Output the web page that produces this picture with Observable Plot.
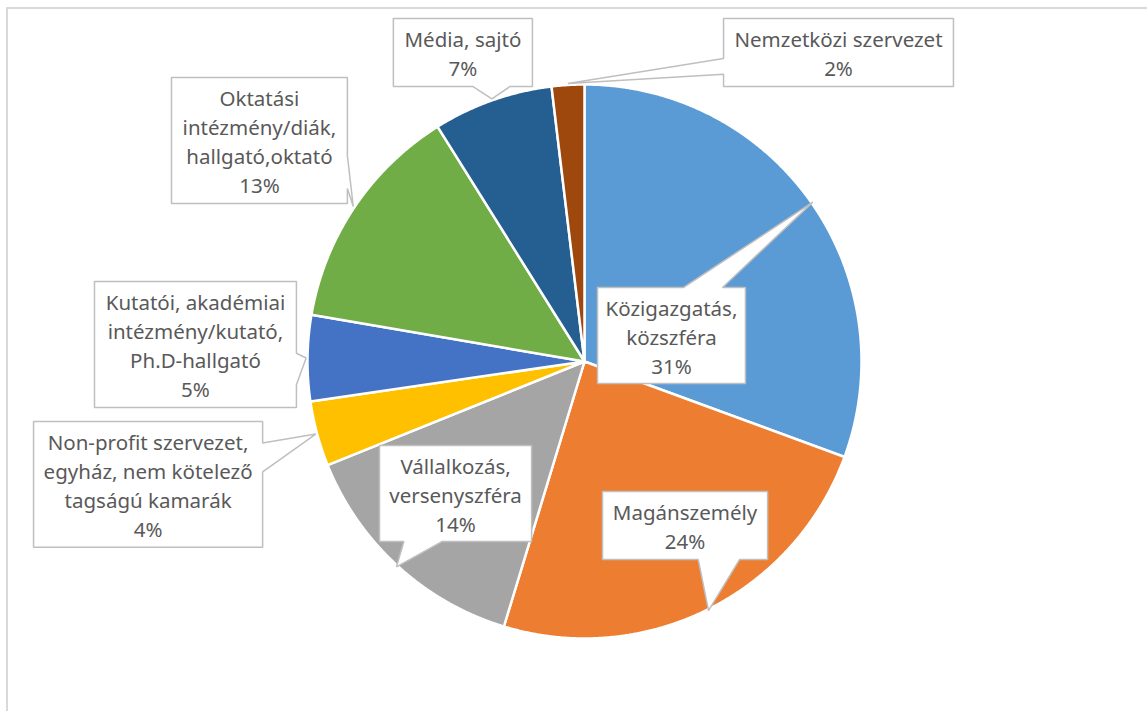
<!DOCTYPE html>
<html><head><meta charset="utf-8">
<script src="https://cdn.jsdelivr.net/npm/d3@7"></script>
<script src="https://cdn.jsdelivr.net/npm/@observablehq/plot@0.6"></script>
<style>
body{margin:0;background:#fff;}
#wrap{position:relative;width:1147px;height:711px;overflow:hidden;background:#fff;}
#frame{position:absolute;left:6px;top:7px;width:1300px;height:900px;border-left:2px solid #d9d9d9;border-top:2px solid #d9d9d9;}
#chart{position:absolute;left:0;top:0;}
</style></head><body>
<div id="wrap"><div id="frame"></div><div id="chart"></div></div>
<script>
// ---- data ----
const categories = [
  "Közigazgatás, közszféra",
  "Magánszemély",
  "Vállalkozás, versenyszféra",
  "Non-profit szervezet, egyház, nem kötelező tagságú kamarák",
  "Kutatói, akadémiai intézmény/kutató, Ph.D-hallgató",
  "Oktatási intézmény/diák, hallgató,oktató",
  "Média, sajtó",
  "Nemzetközi szervezet"
];
const labelLines = [
  ["Közigazgatás,", "közszféra"],
  ["Magánszemély"],
  ["Vállalkozás,", "versenyszféra"],
  ["Non-profit szervezet,", "egyház, nem kötelező", "tagságú kamarák"],
  ["Kutatói, akadémiai", "intézmény/kutató,", "Ph.D-hallgató"],
  ["Oktatási", "intézmény/diák,", "hallgató,oktató"],
  ["Média, sajtó"],
  ["Nemzetközi szervezet"]
];
const shares = [30.6, 24.1, 14.2, 3.8, 5.0, 13.4, 7.0, 1.9];
const colors = ["#5B9BD5", "#ED7D31", "#A5A5A5", "#FFC000", "#4472C4", "#70AD47", "#255E91", "#9E480E"];

// ---- layout (pie-radius units, centre 0,0, y up): callout boxes [x1, yTop, x2, yBottom] ----
const boxes = [
  [0.047, 0.267, 0.581, -0.079],
  [0.065, -0.469, 0.661, -0.715],
  [-0.740, -0.303, -0.191, -0.650],
  [-1.989, -0.217, -1.162, -0.671],
  [-1.769, 0.289, -1.040, -0.166],
  [-1.491, 1.025, -0.856, 0.570],
  [-0.690, 1.238, -0.188, 0.993],
  [0.502, 1.238, 1.332, 0.993]
];
const pointerEdge = ["top", "bottom", "bottom", "right", "right", "right", "bottom", "left"];
const pointerFrac = [[0.58, 0.845], [0.58, 0.83], [0.16, 0.41], [0.17, 0.40], [0.57, 0.82], [0.62, 0.88], [0.57, 0.84], [0.59, 0.82]];

const CX = 584, CY = 361, R = 277, W = 1147, H = 711;

// ---- build geometry from data ----
const total = d3.sum(shares);
const arcs = d3.pie().sort(null).value(d => d)(shares);
const sliceRows = [];
arcs.forEach((a, i) => {
  const cat = categories[i];
  sliceRows.push({cat, x: 0, y: 0});
  const n = Math.max(2, Math.ceil((a.endAngle - a.startAngle) / 0.004));
  for (let k = 0; k <= n; k++) {
    const t = a.startAngle + (a.endAngle - a.startAngle) * k / n;
    sliceRows.push({cat, x: Math.sin(t), y: Math.cos(t)});
  }
  sliceRows.push({cat, x: 0, y: 0});
});

const calloutRows = [];
const labelRows = [];
arcs.forEach((a, i) => {
  const cat = categories[i];
  const mid = (a.startAngle + a.endAngle) / 2;
  const tip = {x: Math.sin(mid) * 1.005, y: Math.cos(mid) * 1.005};
  const [x1, yT, x2, yB] = boxes[i];
  const w = x2 - x1, h = yT - yB;
  const [fa, fb] = pointerFrac[i];
  const e = pointerEdge[i];
  const pts = [[x1, yT]];
  if (e === "top") pts.push([x1 + fa * w, yT], [tip.x, tip.y], [x1 + fb * w, yT]);
  pts.push([x2, yT]);
  if (e === "right") pts.push([x2, yT - fa * h], [tip.x, tip.y], [x2, yT - fb * h]);
  pts.push([x2, yB]);
  if (e === "bottom") pts.push([x1 + fb * w, yB], [tip.x, tip.y], [x1 + fa * w, yB]);
  pts.push([x1, yB]);
  if (e === "left") pts.push([x1, yT - fb * h], [tip.x, tip.y], [x1, yT - fa * h]);
  pts.push([x1, yT]);
  pts.forEach(([x, y]) => calloutRows.push({cat, x, y}));
  const pct = Math.round(shares[i] / total * 100) + "%";
  labelRows.push({cat, x: (x1 + x2) / 2, y: (yT + yB) / 2, text: [...labelLines[i], pct].join("\n")});
});

const chart = Plot.plot({
  width: W,
  height: H,
  margin: 0,
  style: {background: "transparent", overflow: "visible"},
  x: {domain: [-CX / R, (W - CX) / R], range: [0, W], axis: null},
  y: {domain: [-(H - CY) / R, CY / R], range: [H, 0], axis: null},
  color: {type: "ordinal", domain: categories, range: colors},
  marks: [
    Plot.line(sliceRows, {x: "x", y: "y", z: "cat", fill: "cat", stroke: "white", strokeWidth: 2.5, strokeLinejoin: "round", curve: "linear"}),
    Plot.line(calloutRows, {x: "x", y: "y", z: "cat", fill: "white", stroke: "#bfbfbf", strokeWidth: 1.5, strokeLinejoin: "miter", curve: "linear"}),
    Plot.text(labelRows, {x: "x", y: "y", text: "text", fill: "#595959", fontSize: 20.5, lineHeight: 1.415, fontFamily: "Noto Sans", textAnchor: "middle"})
  ]
});
document.getElementById("chart").appendChild(chart);
</script>
</body></html>
